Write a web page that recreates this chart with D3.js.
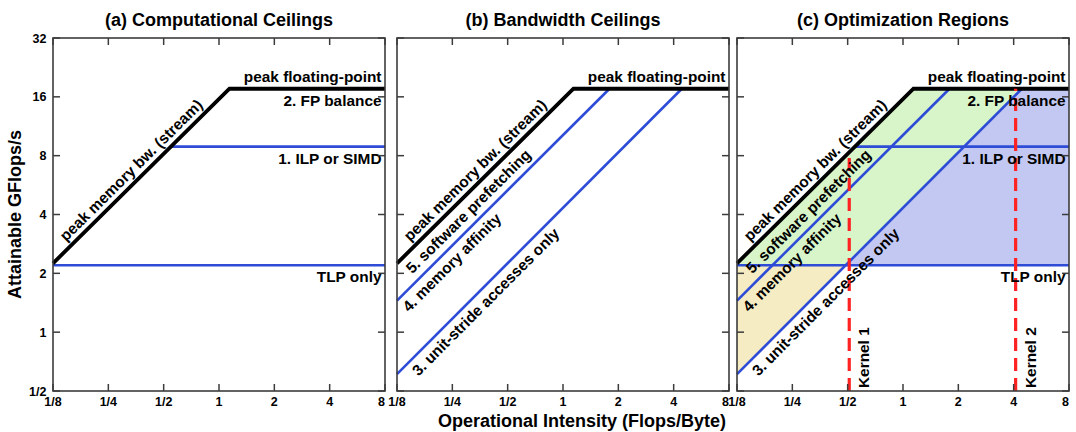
<!DOCTYPE html>
<html><head><meta charset="utf-8">
<script src="https://cdn.jsdelivr.net/npm/d3@7"></script>
<style>
html,body{margin:0;padding:0;background:#fff;}
svg{display:block;font-family:"Liberation Sans",Arial,Helvetica,sans-serif;font-weight:bold;}
</style></head><body>
<svg id="chart" width="1076" height="432"></svg>
<script>
// Roofline model with ceilings: attainable GFlops/s vs operational intensity.
const xTickValues = [1/8, 1/4, 1/2, 1, 2, 4, 8];
const xTickLabels = ["1/8", "1/4", "1/2", "1", "2", "4", "8"];
const yTickValues = [1/2, 1, 2, 4, 8, 16, 32];
const yTickLabels = ["1/2", "1", "2", "4", "8", "16", "32"];
const panelTitles = ["(a) Computational Ceilings", "(b) Bandwidth Ceilings", "(c) Optimization Regions"];

// Computational roof and ceilings (GFlops/s)
const computeFlops = [17.6, 8.9, 2.2];
const computeLabels = ["2. FP balance", "1. ILP or SIMD", "TLP only"];

// Bandwidth roof and ceilings: GFlops/s at OI = 1/8, and the OI where each meets the peak
const bandwidthStartFlops = [2.25, 1.45, 0.61];
const bandwidthRidgeOI = [1.14, 1.79, 4.43];
const bandwidthLabels = ["5. software prefetching", "4. memory affinity", "3. unit-stride accesses only"];

// Example kernels (Flops/Byte)
const kernelOI = [0.51, 4.1];
const kernelNames = ["Kernel 1", "Kernel 2"];

const svg = d3.select("#chart");
const plotTop = 38, plotBottom = 391;
const panelLeft = [53, 397, 737];
const panelWidth = 332;

const BLUE = "rgb(46,76,214)";
const FRAME = "#3c3c3c";
const peak = computeFlops[0];
const minOI = xTickValues[0], maxOI = xTickValues[xTickValues.length - 1];

const y = d3.scaleLog().base(2).domain([1/2, 32]).range([plotBottom, plotTop]);

// Bandwidth line k evaluated in log space
function bwSlope(k) {
  const s = Math.log2(bandwidthStartFlops[k]);
  return (Math.log2(peak) - s) / (Math.log2(bandwidthRidgeOI[k]) - Math.log2(minOI));
}
function bwFlopsAt(k, oi) {
  const s = Math.log2(bandwidthStartFlops[k]);
  return Math.pow(2, s + (Math.log2(oi) - Math.log2(minOI)) * bwSlope(k));
}
function bwOIAt(k, flops) {
  const s = Math.log2(bandwidthStartFlops[k]);
  return Math.pow(2, Math.log2(minOI) + (Math.log2(flops) - s) / bwSlope(k));
}
function roofAt(oi) { return Math.min(peak, bwFlopsAt(0, oi)); }

const labelSize = 15.4;

function drawPanel(p) {
  const x = d3.scaleLog().base(2).domain([minOI, maxOI]).range([panelLeft[p], panelLeft[p] + panelWidth]);
  const g = svg.append("g");
  const line = d3.line().x(d => x(d[0])).y(d => y(d[1]));

  // Optimization regions
  if (p === 2) {
    const tlp = computeFlops[2];
    const cross = bwOIAt(2, tlp);
    const regions = [
      { fill: "#f5ecc3", pts: [[minOI, tlp], [cross, tlp], [minOI, bandwidthStartFlops[2]]] },
      { fill: "#d7f5c9", pts: [[minOI, tlp], [minOI, bandwidthStartFlops[0]], [bandwidthRidgeOI[0], peak], [bandwidthRidgeOI[2], peak], [cross, tlp]] },
      { fill: "#c2c8f2", pts: [[bandwidthRidgeOI[2], peak], [maxOI, peak], [maxOI, tlp], [cross, tlp]] }
    ];
    g.selectAll("path.region").data(regions).join("path")
      .attr("class", "region")
      .attr("d", d => line(d.pts) + "Z")
      .attr("fill", d => d.fill);
  }

  // Computational ceilings (horizontal)
  if (p === 0 || p === 2) {
    [1, 2].forEach(i => {
      const f = computeFlops[i];
      const x0 = Math.max(minOI, bwOIAt(0, f));
      g.append("path").attr("d", line([[x0, f], [maxOI, f]]))
        .attr("stroke", BLUE).attr("stroke-width", 2.7).attr("fill", "none");
    });
  }

  // Bandwidth ceilings (diagonal)
  if (p === 1 || p === 2) {
    [1, 2].forEach(k => {
      g.append("path").attr("d", line([[minOI, bandwidthStartFlops[k]], [bandwidthRidgeOI[k], peak]]))
        .attr("stroke", BLUE).attr("stroke-width", 2.6).attr("fill", "none");
    });
  }

  // Roofline
  g.append("path")
    .attr("d", line([[minOI, bandwidthStartFlops[0]], [bandwidthRidgeOI[0], peak], [maxOI, peak]]))
    .attr("stroke", "#000").attr("stroke-width", 3.8).attr("fill", "none")
    .attr("stroke-linejoin", "miter");

  // Kernels
  if (p === 2) {
    kernelOI.forEach((k, i) => {
      g.append("line")
        .attr("x1", x(k)).attr("x2", x(k))
        .attr("y1", y(1/2)).attr("y2", y(roofAt(k)))
        .attr("stroke", "#ff2222").attr("stroke-width", 3.2)
        .attr("stroke-dasharray", "13,7");
      g.append("text")
        .attr("transform", `translate(${x(k) + 20},${plotBottom - 3}) rotate(-90)`)
        .attr("font-size", labelSize).attr("text-anchor", "start")
        .text(kernelNames[i]);
    });
  }

  // Horizontal labels
  const right = panelLeft[p] + panelWidth - 3.5;
  g.append("text").attr("x", right).attr("y", y(peak) - 7)
    .attr("text-anchor", "end").attr("font-size", labelSize).text("peak floating-point");
  if (p === 0 || p === 2) {
    computeFlops.forEach((f, i) => {
      g.append("text").attr("x", right).attr("y", y(f) + 17)
        .attr("text-anchor", "end").attr("font-size", labelSize).text(computeLabels[i]);
    });
  }

  // Diagonal labels
  function diagLabel(k, oi, offset, txt) {
    const px0 = x(minOI), py0 = y(bandwidthStartFlops[k]);
    const px1 = x(bandwidthRidgeOI[k]), py1 = y(peak);
    const ang = Math.atan2(py1 - py0, px1 - px0) * 180 / Math.PI;
    g.append("text")
      .attr("transform", `translate(${x(oi)},${y(bwFlopsAt(k, oi))}) rotate(${ang})`)
      .attr("x", 0).attr("y", offset)
      .attr("text-anchor", "middle").attr("font-size", labelSize)
      .text(txt);
  }
  diagLabel(0, 0.367, -6, "peak memory bw. (stream)");
  if (p === 1 || p === 2) {
    diagLabel(0, 0.272, 18.5, bandwidthLabels[0]);
    diagLabel(1, 0.224, 17, bandwidthLabels[1]);
    diagLabel(2, 0.342, 17, bandwidthLabels[2]);
  }

  // Frame and inward ticks on all sides
  const L = panelLeft[p], R = L + panelWidth;
  const tk = 7;
  const ticks = svg.append("g").attr("stroke", FRAME).attr("stroke-width", 1.5);
  xTickValues.forEach(v => {
    ticks.append("line").attr("x1", x(v)).attr("x2", x(v)).attr("y1", plotBottom).attr("y2", plotBottom - tk);
    ticks.append("line").attr("x1", x(v)).attr("x2", x(v)).attr("y1", plotTop).attr("y2", plotTop + tk);
  });
  yTickValues.forEach(v => {
    ticks.append("line").attr("x1", L).attr("x2", L + tk).attr("y1", y(v)).attr("y2", y(v));
    ticks.append("line").attr("x1", R).attr("x2", R - tk).attr("y1", y(v)).attr("y2", y(v));
  });
  svg.append("rect").attr("x", L).attr("y", plotTop).attr("width", panelWidth).attr("height", plotBottom - plotTop)
    .attr("fill", "none").attr("stroke", FRAME).attr("stroke-width", 1.6);

  // X tick labels (the rightmost one tucked in so it clears the next panel's first label)
  svg.append("g").selectAll("text").data(xTickValues).join("text")
    .attr("x", (d, i) => x(d) - (i === xTickValues.length - 1 ? 3.5 : 0)).attr("y", 405.5)
    .attr("text-anchor", "middle").attr("font-size", 12.5)
    .text((d, i) => xTickLabels[i]);

  // Title
  svg.append("text").attr("x", L + panelWidth / 2).attr("y", 25.5)
    .attr("text-anchor", "middle").attr("font-size", 18).text(panelTitles[p]);
}

[0, 1, 2].forEach(drawPanel);

// Y tick labels
svg.append("g").selectAll("text").data(yTickValues).join("text")
  .attr("x", 46.5).attr("y", d => y(d)).attr("dy", "0.36em")
  .attr("text-anchor", "end").attr("font-size", 12.5)
  .text((d, i) => yTickLabels[i]);

// Axis titles
svg.append("text")
  .attr("transform", `translate(21,${(plotTop + plotBottom) / 2}) rotate(-90)`)
  .attr("text-anchor", "middle").attr("font-size", 18)
  .text("Attainable GFlops/s");
svg.append("text").attr("x", 582).attr("y", 427)
  .attr("text-anchor", "middle").attr("font-size", 18)
  .text("Operational Intensity (Flops/Byte)");
</script>
</body></html>
